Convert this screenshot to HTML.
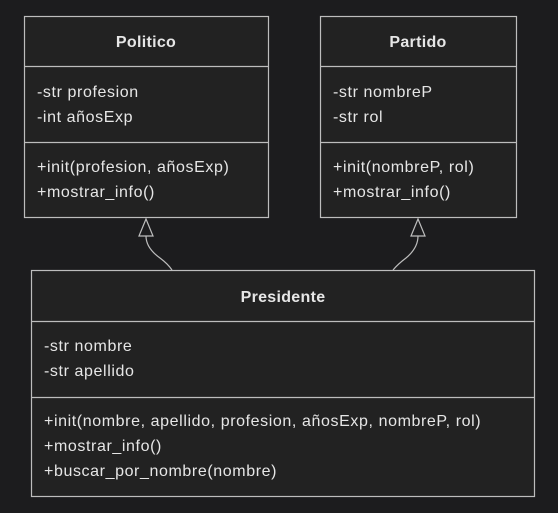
<!DOCTYPE html>
<html><head><style>
body{margin:0;background:#1c1c1e;}
svg{display:block}
text{font-family:"Liberation Sans",sans-serif;font-size:16px;letter-spacing:0.6px;fill:#e6e6e6}
.t{font-weight:bold;text-anchor:middle;letter-spacing:0.3px}
</style></head><body>
<svg width="558" height="513" viewBox="0 0 558 513">
<rect width="558" height="513" fill="#1c1c1e"/>
<g fill="#222222" stroke="#bdbdbd" stroke-width="1.2">
<rect x="24.5" y="16.5" width="244" height="201"/>
<line x1="24.5" y1="66.5" x2="268.5" y2="66.5"/>
<line x1="24.5" y1="142.5" x2="268.5" y2="142.5"/>
<rect x="320.5" y="16.5" width="196" height="201"/>
<line x1="320.5" y1="66.5" x2="516.5" y2="66.5"/>
<line x1="320.5" y1="142.5" x2="516.5" y2="142.5"/>
<rect x="31.5" y="270.5" width="503" height="226"/>
<line x1="31.5" y1="321.5" x2="534.5" y2="321.5"/>
<line x1="31.5" y1="397.5" x2="534.5" y2="397.5"/>
</g>
<g fill="none" stroke="#bdbdbd" stroke-width="1.2">
<path d="M146 236 Q146 248 160 258 Q168 264 172 270"/>
<path d="M139 236 L146 219 L153 236 Z" fill="#1c1c1e"/>
<path d="M418 236 Q418 248 406 258 Q398 264 393 270"/>
<path d="M411 236 L418 219 L425 236 Z" fill="#1c1c1e"/>
</g>
<text class="t" x="146" y="47">Politico</text>
<text x="37" y="97">-str profesion</text>
<text x="37" y="122">-int añosExp</text>
<text x="37" y="172">+init(profesion, añosExp)</text>
<text x="37" y="197">+mostrar_info()</text>
<text class="t" x="418" y="47">Partido</text>
<text x="333" y="97">-str nombreP</text>
<text x="333" y="122">-str rol</text>
<text x="333" y="172">+init(nombreP, rol)</text>
<text x="333" y="197">+mostrar_info()</text>
<text class="t" x="283" y="302">Presidente</text>
<text x="44" y="351">-str nombre</text>
<text x="44" y="376">-str apellido</text>
<text x="44" y="426">+init(nombre, apellido, profesion, añosExp, nombreP, rol)</text>
<text x="44" y="451">+mostrar_info()</text>
<text x="44" y="476">+buscar_por_nombre(nombre)</text>
</svg>
</body></html>
